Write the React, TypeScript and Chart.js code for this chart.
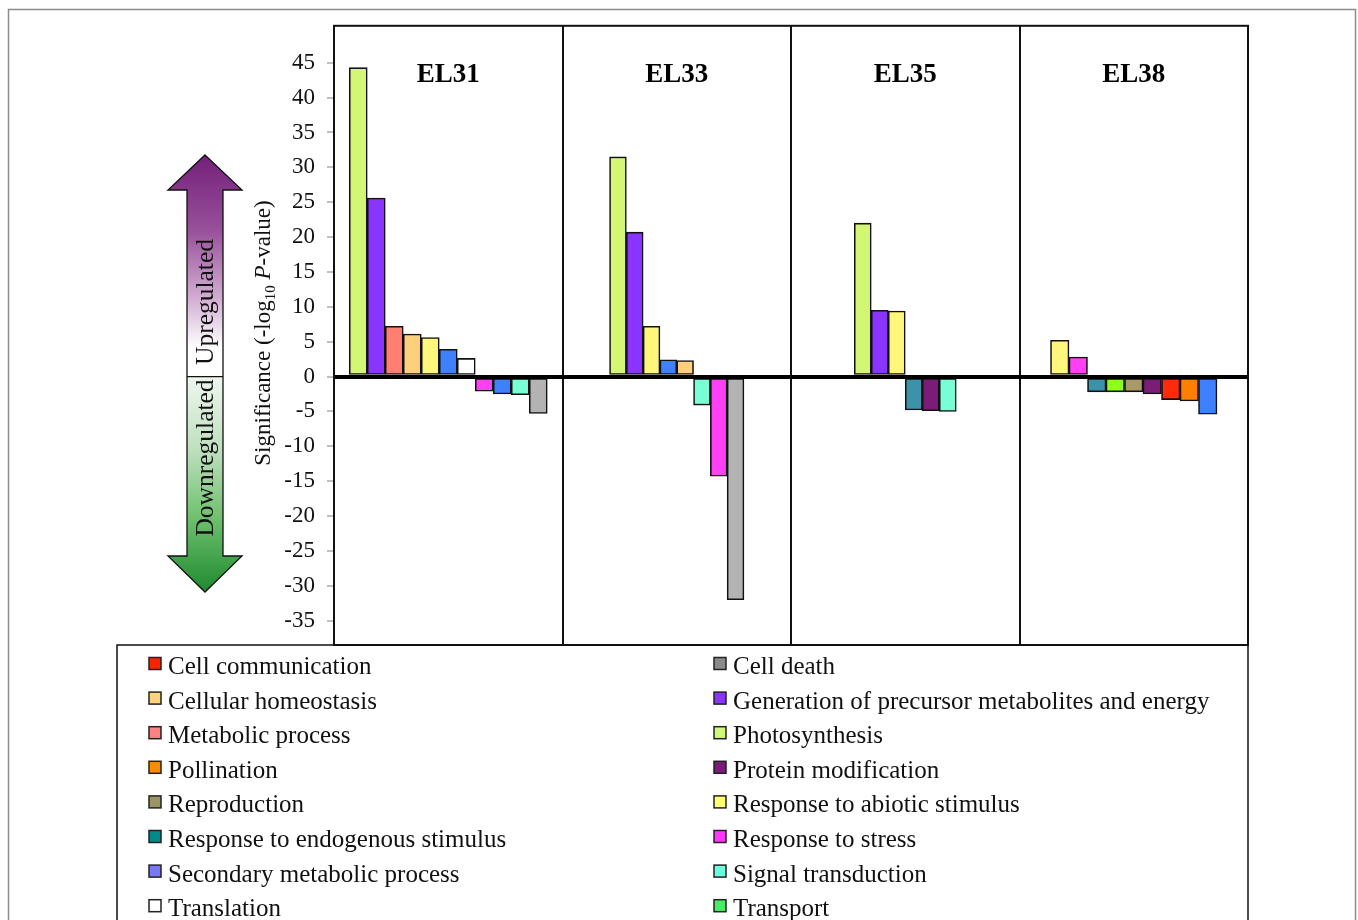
import React, { useEffect, useRef } from 'react';
import { Chart, registerables } from 'chart.js';

Chart.register(...registerables);

// ---------------- data ----------------
const PANELS = ['EL31', 'EL33', 'EL35', 'EL38'];

const TERMS = [
  'Cell communication',
  'Cell death',
  'Cellular homeostasis',
  'Generation of precursor metabolites and energy',
  'Metabolic process',
  'Photosynthesis',
  'Pollination',
  'Protein modification',
  'Reproduction',
  'Response to abiotic stimulus',
  'Response to endogenous stimulus',
  'Response to stress',
  'Secondary metabolic process',
  'Signal transduction',
  'Translation',
  'Transport',
];

const LEGEND_COLORS = [
  '#ff2200', '#8a8a8a', '#ffd47c', '#8a35ff', '#ff8282', '#cff77a', '#ff8c00', '#7b1a7b',
  '#9c9462', '#ffff72', '#008a8a', '#ff36ff', '#7878ff', '#6affdc', '#ffffff', '#46ee66',
];

const BAR_COLORS = [
  '#ff2a0a', '#b3b3b3', '#ffcf7c', '#8a35ff', '#ff7f72', '#d3f775', '#ff8000', '#7a1c78',
  '#a89b68', '#fff67c', '#3c93a9', '#ff40f5', '#3f80ff', '#79ffd6', '#ffffff', '#8cff1a',
];

const EL31_TERMS = [
  'Photosynthesis', 'Generation of precursor metabolites and energy', 'Metabolic process',
  'Cellular homeostasis', 'Response to abiotic stimulus', 'Secondary metabolic process', 'Translation',
  'Response to stress', 'Secondary metabolic process', 'Signal transduction', 'Cell death',
];
const EL31_VALUES = [44.3, 25.6, 7.2, 6.1, 5.6, 3.9, 2.6, -2.1, -2.5, -2.6, -5.3];

const EL33_TERMS = [
  'Photosynthesis', 'Generation of precursor metabolites and energy', 'Response to abiotic stimulus',
  'Secondary metabolic process', 'Cellular homeostasis', 'Signal transduction', 'Response to stress', 'Cell death',
];
const EL33_VALUES = [31.5, 20.7, 7.2, 2.4, 2.3, -4.1, -14.3, -32.0];

const EL35_TERMS = [
  'Photosynthesis', 'Generation of precursor metabolites and energy', 'Response to abiotic stimulus',
  'Response to endogenous stimulus', 'Protein modification', 'Signal transduction',
];
const EL35_VALUES = [22.0, 9.5, 9.4, -4.8, -4.9, -5.0];

const EL38_TERMS = [
  'Response to abiotic stimulus', 'Response to stress', 'Response to endogenous stimulus', 'Transport',
  'Reproduction', 'Protein modification', 'Cell communication', 'Pollination', 'Secondary metabolic process',
];
const EL38_VALUES = [5.2, 2.8, -2.2, -2.2, -2.2, -2.5, -3.3, -3.5, -5.4];

const Y_TICKS = [45, 40, 35, 30, 25, 20, 15, 10, 5, 0, -5, -10, -15, -20, -25, -30, -35];

// ---------------- helpers ----------------
const SERIF = '"Liberation Serif", "Times New Roman", serif';
const PANEL_TERMS = [EL31_TERMS, EL33_TERMS, EL35_TERMS, EL38_TERMS];
const PANEL_VALUES = [EL31_VALUES, EL33_VALUES, EL35_VALUES, EL38_VALUES];
const PANEL_BAR_THICKNESS = [18, 16.8, 17, 18.5];

function buildDatasets() {
  const out: any[] = [];
  PANEL_VALUES.forEach((vals, p) => {
    vals.forEach((v, k) => {
      const term = PANEL_TERMS[p][k];
      const data = PANELS.map((_, i) => (i === p ? v : null));
      out.push({
        label: term,
        data,
        backgroundColor: BAR_COLORS[TERMS.indexOf(term)],
        borderColor: '#111',
        borderWidth: 1.6,
        borderSkipped: false,
        barThickness: PANEL_BAR_THICKNESS[p],
        skipNull: true,
      });
    });
  });
  return out;
}

const decorPlugin = {
  id: 'decor',
  beforeDraw(chart: any) {
    const { ctx, width, height } = chart;
    ctx.save();
    ctx.fillStyle = '#ffffff';
    ctx.fillRect(0, 0, width, height);
    ctx.restore();
  },
  afterDraw(chart: any) {
    const { ctx, chartArea: a } = chart;
    const xs = chart.scales.x;
    const ys = chart.scales.y;
    ctx.save();

    // outer figure border
    ctx.strokeStyle = '#8c8c8c';
    ctx.lineWidth = 1.5;
    ctx.strokeRect(8.5, 9.5, 1347, 1000);

    // plot frame
    ctx.strokeStyle = '#111';
    ctx.lineWidth = 2;
    ctx.strokeRect(a.left, a.top, a.right - a.left, a.bottom - a.top);

    // panel titles
    ctx.fillStyle = '#000';
    ctx.font = `bold 27px ${SERIF}`;
    ctx.textAlign = 'center';
    ctx.textBaseline = 'middle';
    PANELS.forEach((p, i) => ctx.fillText(p, xs.getPixelForValue(i), a.top + 49));

    // legend
    const lx = 117;
    const ly = a.bottom;
    ctx.strokeStyle = '#111';
    ctx.lineWidth = 1.5;
    ctx.strokeRect(lx, ly, a.right - lx, 400);
    ctx.font = `25px ${SERIF}`;
    ctx.textAlign = 'left';
    ctx.textBaseline = 'middle';
    TERMS.forEach((t, i) => {
      const col = i % 2;
      const row = Math.floor(i / 2);
      const sx = col === 0 ? 149 : 714;
      const cy = ly + 21.5 + row * 34.6;
      ctx.fillStyle = LEGEND_COLORS[i];
      ctx.fillRect(sx, cy - 9, 12, 12);
      ctx.strokeStyle = '#222';
      ctx.lineWidth = 1.5;
      ctx.strokeRect(sx, cy - 9, 12, 12);
      ctx.fillStyle = '#111';
      ctx.fillText(t, sx + 19, cy + 1);
    });

    // up/down arrow
    const zero = ys.getPixelForValue(0);
    const cx = 205, hw = 37, sw = 18;
    const topTip = 155, topBase = 190, botBase = 556, botTip = 592;
    ctx.beginPath();
    ctx.moveTo(cx, topTip);
    ctx.lineTo(cx + hw, topBase);
    ctx.lineTo(cx + sw, topBase);
    ctx.lineTo(cx + sw, botBase);
    ctx.lineTo(cx + hw, botBase);
    ctx.lineTo(cx, botTip);
    ctx.lineTo(cx - hw, botBase);
    ctx.lineTo(cx - sw, botBase);
    ctx.lineTo(cx - sw, topBase);
    ctx.lineTo(cx - hw, topBase);
    ctx.closePath();
    const g = ctx.createLinearGradient(0, topTip, 0, botTip);
    const f = (y: number) => (y - topTip) / (botTip - topTip);
    g.addColorStop(0, '#74207a');
    g.addColorStop(f(230), '#97509a');
    g.addColorStop(f(300), '#d3b0d3');
    g.addColorStop(f(348), '#ffffff');
    g.addColorStop(f(zero), '#ffffff');
    g.addColorStop(f(zero + 0.5), '#eef7ee');
    g.addColorStop(f(450), '#bfdfbf');
    g.addColorStop(f(520), '#6cbf6c');
    g.addColorStop(1, '#1f8a2f');
    ctx.fillStyle = g;
    ctx.fill();
    ctx.strokeStyle = '#111';
    ctx.lineWidth = 1.3;
    ctx.stroke();
    ctx.beginPath();
    ctx.moveTo(cx - sw, zero);
    ctx.lineTo(cx + sw, zero);
    ctx.stroke();

    ctx.fillStyle = '#111';
    ctx.font = `25.5px ${SERIF}`;
    ctx.textAlign = 'center';
    ctx.textBaseline = 'middle';
    ctx.save();
    ctx.translate(cx + 1, 302);
    ctx.rotate(-Math.PI / 2);
    ctx.fillText('Upregulated', 0, 0);
    ctx.restore();
    ctx.save();
    ctx.translate(cx + 1, 458);
    ctx.rotate(-Math.PI / 2);
    ctx.fillText('Downregulated', 0, 0);
    ctx.restore();

    // y-axis title with subscript and italic
    const parts = [
      { t: 'Significance (-log', font: `23px ${SERIF}`, dy: 0 },
      { t: '10', font: `15px ${SERIF}`, dy: 5 },
      { t: ' ', font: `23px ${SERIF}`, dy: 0 },
      { t: 'P', font: `italic 23px ${SERIF}`, dy: 0 },
      { t: '-value)', font: `23px ${SERIF}`, dy: 0 },
    ];
    let total = 0;
    parts.forEach((pt) => {
      ctx.font = pt.font;
      total += ctx.measureText(pt.t).width;
    });
    ctx.save();
    ctx.translate(262, 333);
    ctx.rotate(-Math.PI / 2);
    ctx.textAlign = 'left';
    ctx.textBaseline = 'alphabetic';
    let px = -total / 2;
    parts.forEach((pt) => {
      ctx.font = pt.font;
      ctx.fillText(pt.t, px, 7.5 + pt.dy);
      px += ctx.measureText(pt.t).width;
    });
    ctx.restore();

    ctx.restore();
  },
};

export default function App() {
  const ref = useRef<HTMLCanvasElement | null>(null);

  useEffect(() => {
    if (!ref.current) return;
    const chart = new Chart(ref.current, {
      type: 'bar',
      data: { labels: PANELS, datasets: buildDatasets() },
      options: {
        animation: false,
        responsive: false,
        devicePixelRatio: 1,
        layout: { padding: { left: 224, right: 110, top: 25, bottom: 275 } },
        plugins: {
          legend: { display: false },
          tooltip: { enabled: false },
          title: { display: false },
        },
        scales: {
          x: {
            type: 'category',
            offset: true,
            ticks: { display: false },
            grid: { offset: true, color: '#111', lineWidth: 2, drawTicks: false },
            border: { display: true, color: '#111', width: 2 },
            afterFit: (s: any) => { s.height = 0; },
          },
          y: {
            type: 'linear',
            min: -38.5,
            max: 50.3,
            afterBuildTicks: (s: any) => { s.ticks = Y_TICKS.map((v) => ({ value: v })); },
            afterFit: (s: any) => { s.width = 110; },
            ticks: { font: { family: SERIF, size: 23 }, color: '#111', padding: 12 },
            grid: {
              z: 1,
              color: (c: any) => (c.tick && c.tick.value === 0 ? '#000' : 'rgba(0,0,0,0)'),
              lineWidth: (c: any) => (c.tick && c.tick.value === 0 ? 4 : 0),
              tickLength: 7,
              tickWidth: 1,
              tickColor: '#808080',
            },
            border: { display: false },
          },
        },
      } as any,
      plugins: [decorPlugin],
    });
    return () => chart.destroy();
  }, []);

  return (
    <div style={{ position: 'fixed', left: 0, top: 0, width: 1358, height: 920, overflow: 'hidden', background: '#fff' }}>
      <canvas ref={ref} width={1358} height={920} style={{ display: 'block', width: 1358, height: 920 }} />
    </div>
  );
}
